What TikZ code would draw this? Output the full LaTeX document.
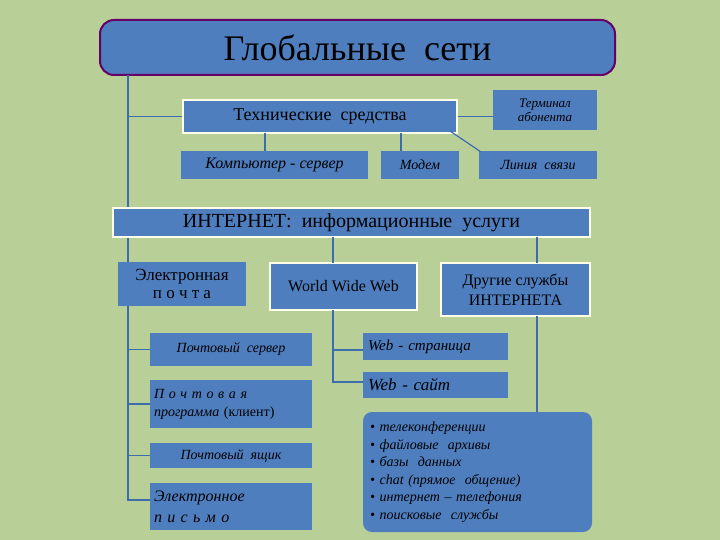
\documentclass[tikz,border=0pt]{standalone}
\usepackage{fontspec}
\setmainfont{Liberation Serif}
\begin{document}
\begin{tikzpicture}[x=1pt,y=-1pt,
  bx/.style={fill=boxblue,inner sep=0pt,text=black,align=center},
  wb/.style={bx,draw=white!90!yellow,line width=1.5pt},
  ln/.style={draw=lineblue,line width=1.2pt}]
\definecolor{boxblue}{HTML}{4F7EBF}
\definecolor{lineblue}{HTML}{3E6DAE}
\definecolor{bg}{HTML}{B9CF98}
\fill[bg] (0,0) rectangle (720,540);
\useasboundingbox (0,0) rectangle (720,540);
% boxes
\node[bx,draw=violet!80!black,line width=2pt,rounded corners=14pt,minimum width=515,minimum height=55,font=\fontsize{36}{38}\selectfont] (t) at (357.5,47.5) {Глобальные\ \ сети};
\node[wb,minimum width=274,minimum height=33,font=\fontsize{18}{20}\selectfont] (tech) at (320,116.5) {Технические\ \ средства};
\node[bx,minimum width=104,minimum height=40,font=\fontsize{13}{14}\selectfont\itshape] (term) at (545,110) {Терминал\\абонента};
\node[bx,minimum width=187,minimum height=28,font=\fontsize{16}{18}\selectfont\itshape] (comp) at (274.5,165) {Компьютер - сервер};
\node[bx,minimum width=78,minimum height=28,font=\fontsize{14}{18}\selectfont\itshape] (mod) at (420,165) {Модем};
\node[bx,minimum width=118,minimum height=28,font=\fontsize{14}{18}\selectfont\itshape] (lin) at (538,165) {Линия\ \ связи};
\node[wb,minimum width=477,minimum height=29,font=\fontsize{20}{22}\selectfont] (inet) at (351.5,222.5) {ИНТЕРНЕТ:\ \ информационные\ \ услуги};
\node[bx,minimum width=128,minimum height=44,font=\fontsize{17}{18}\selectfont] (mail) at (182,284) {Электронная\\п\ о\ ч\ т\ а};
\node[wb,minimum width=147,minimum height=47,font=\fontsize{16}{18}\selectfont] (www) at (343.5,286.5) {World Wide Web};
\node[wb,minimum width=149,minimum height=53,font=\fontsize{16}{20}\selectfont] (oth) at (515.5,289.5) {Другие службы\\ИНТЕРНЕТА};
\node[bx,minimum width=162,minimum height=33,font=\fontsize{14}{18}\selectfont\itshape] (ms) at (231,349.5) {Почтовый\ \ сервер};
\node[bx,minimum width=162,minimum height=48,align=left,text width=154,font=\fontsize{14}{18}\selectfont\itshape] (mp) at (231,404) {П\ о\ ч\ т\ о\ в\ а\ я\\программа \upshape(клиент)};
\node[bx,minimum width=162,minimum height=25,font=\fontsize{14}{18}\selectfont\itshape] (mb) at (231,455.5) {Почтовый\ \ ящик};
\node[bx,minimum width=162,minimum height=47,align=left,text width=154,font=\fontsize{16}{21}\selectfont\itshape] (ep) at (231,506.5) {Электронное\\п\ и\ с\ ь\ м\ о};
\node[bx,minimum width=145,minimum height=27,align=left,text width=135,font=\fontsize{15}{18}\selectfont\itshape] (wp) at (435.5,346.5) {Web - страница};
\node[bx,minimum width=145,minimum height=26,align=left,text width=135,font=\fontsize{17}{18}\selectfont\itshape] (ws) at (435.5,385) {Web - сайт};
\node[bx,rounded corners=9pt,minimum width=229,minimum height=120,align=left,text width=215,font=\fontsize{14}{17.5}\selectfont\itshape] (lst) at (477.5,472) {• телеконференции\\• файловые\ \ архивы\\• базы\ \ данных\\• chat (прямое\ \ общение)\\• интернет – телефония\\• поисковые\ \ службы};
% connectors
\coordinate (l1) at (128,75);
\draw[ln] (l1) -- (l1|-inet.north);
\draw[ln] (l1|-tech.west) -- (tech.west);
\draw[ln] (tech.east) -- (tech.east-|term.west);
\draw[ln] (265,133) -- (265,151);
\draw[ln] (401,133) -- (401,151);
\draw[ln] (450,131) -- (481,152);
\draw[ln] (l1|-inet.south) -- (l1|-mail.north);
\draw[ln] (l1|-mail.south) -- (128,500) -- (150,500);
\draw[ln] (l1|-ms.west) -- (ms.west);
\draw[ln] (l1|-mp.west) -- (mp.west);
\draw[ln] (l1|-mb.west) -- (mb.west);
\draw[ln] (333,237) -- (333,263);
\draw[ln] (537,237) -- (537,263);
\draw[ln] (333,310) -- (333,382) -- (363,382);
\draw[ln] (333,350) -- (363,350);
\draw[ln] (537,316) -- (537,412);
\end{tikzpicture}
\end{document}
